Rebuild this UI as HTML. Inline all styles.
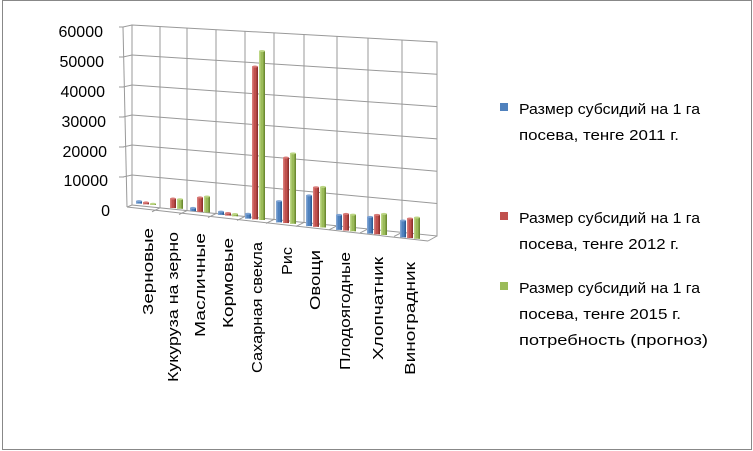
<!DOCTYPE html><html><head><style>body{margin:0;background:#fff}svg{display:block}text{font-family:"Liberation Sans",sans-serif}</style></head><body>
<svg width="753" height="451" viewBox="0 0 753 451">
<rect x="2.5" y="0.5" width="749" height="449" fill="#fff" stroke="#888"/>
<g stroke="#999" fill="none" stroke-width="1">
<polygon points="132,25 437,42 437,236 132,205"/>
<line x1="123" y1="27" x2="132" y2="25"/><line x1="123" y1="27" x2="127" y2="207"/>
<line x1="127" y1="207" x2="428" y2="241"/><line x1="428" y1="241" x2="437" y2="236"/><line x1="127" y1="207" x2="132" y2="205"/>
<g id="g"></g>
</g>
<g id="b"></g>
<g font-size="16" fill="#000" text-anchor="end">
<text x="103" y="37">60000</text><text x="104" y="67">50000</text><text x="105" y="97">40000</text><text x="106" y="127">30000</text><text x="107" y="157">20000</text><text x="108" y="186">10000</text><text x="110" y="216">0</text>
</g>
<g id="l" font-size="15" text-anchor="end"></g>
<g font-size="15" fill="#000">
<rect x="500" y="103" width="8" height="8" fill="#4f81bd"/><text x="519" y="114" textLength="181" lengthAdjust="spacingAndGlyphs">Размер субсидий на 1 га</text><text x="519" y="140" textLength="160" lengthAdjust="spacingAndGlyphs">посева, тенге 2011 г.</text>
<rect x="500" y="212" width="8" height="8" fill="#c0504d"/><text x="519" y="223" textLength="181" lengthAdjust="spacingAndGlyphs">Размер субсидий на 1 га</text><text x="519" y="249" textLength="160" lengthAdjust="spacingAndGlyphs">посева, тенге 2012 г.</text>
<rect x="500" y="282" width="8" height="8" fill="#9bbb59"/><text x="519" y="293" textLength="181" lengthAdjust="spacingAndGlyphs">Размер субсидий на 1 га</text><text x="519" y="319" textLength="162" lengthAdjust="spacingAndGlyphs">посева, тенге 2015 г.</text><text x="519" y="345" textLength="189" lengthAdjust="spacingAndGlyphs">потребность (прогноз)</text>
</g>
</svg>
<script>
var ns="http://www.w3.org/2000/svg";function el(p,t,a,tx){var e=document.createElementNS(ns,t);for(var k in a)e.setAttribute(k,a[k]);if(tx)e.textContent=tx;p.appendChild(e);return e}
var g=document.getElementById("g");
var vx=[132,160,187,216,245,274,304,337,368,402,437];
for(var i=1;i<10;i++){var yb=205+(vx[i]-132)/305*31;el(g,"line",{x1:vx[i],y1:25+(vx[i]-132)/305*17,x2:vx[i],y2:yb});el(g,"line",{x1:vx[i],y1:yb,x2:vx[i]-8,y2:yb+4})}
for(var j=1;j<6;j++){var yl=25+30*j,yr=42+32.3*j;el(g,"line",{x1:132,y1:yl,x2:437,y2:yr});el(g,"line",{x1:123,y1:27+30*j,x2:132,y2:yl});el(g,"line",{x1:119,y1:27+30*j,x2:124,y2:27+30*j})}
el(g,"line",{x1:119,y1:27,x2:123,y2:27});
var d=[[800,600,400],[0,3000,3000],[1000,4500,5000],[1000,800,700],[1500,47000,52000],[6500,20000,21500],[9300,12000,12300],[4500,5000,5000],[5000,5800,6300],[5000,5800,6300]];
var gx=[153,180,207,235,262,293,323,353,384,417];
var col=[["#4f81bd","#2c5d96","#7ea3d3"],["#c0504d","#8e302d","#d87a77"],["#9bbb59","#6d8b32","#bcd685"]];
var b=document.getElementById("b");
for(var i=0;i<10;i++){var s=3.15+0.025*i;for(var k=0;k<3;k++){var v=d[i][k];if(!v)continue;var x=gx[i]-(2-k)*7-3,yb=205+3.75*i-(2-k)*0.7,h=v/1000*s;
var gr=el(b,"g",{});el(gr,"rect",{x:x,y:yb-h,width:6,height:h,fill:col[k][0]});el(gr,"rect",{x:x,y:yb-h,width:1.5,height:h,fill:col[k][2]});el(gr,"rect",{x:x+4.5,y:yb-h,width:1.5,height:h,fill:col[k][1]});el(gr,"ellipse",{cx:x+3,cy:yb-h,rx:3,ry:1,fill:col[k][2]})}}
var L=["Зерновые","Кукуруза на зерно","Масличные","Кормовые","Сахарная свекла","Рис","Овощи","Плодоягодные","Хлопчатник","Виноградник"];
var lx=[153,178,205,233,262,292,320,350,383,415];
var ly=[228,232,233,238,242,247,250,252,257,262];
var ll=[87,150,104,90,131,28,60,118,103,113];
var lg=document.getElementById("l");
for(var i=0;i<10;i++){el(lg,"text",{transform:"translate("+lx[i]+","+ly[i]+") rotate(-90)",x:0,y:0,textLength:ll[i],lengthAdjust:"spacingAndGlyphs"},L[i])}
</script>
</body></html>
